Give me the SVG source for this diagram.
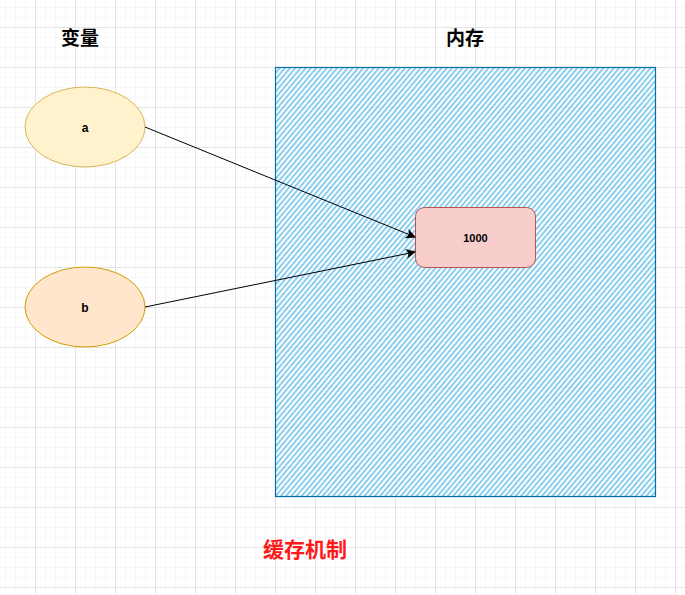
<svg xmlns="http://www.w3.org/2000/svg" width="685" height="595" viewBox="0 0 685 595">
<defs>
<pattern id="minor" x="5" y="7" width="10" height="10" patternUnits="userSpaceOnUse">
<path d="M0 0H10M0 0V10" fill="none" stroke="#f0f0f0" stroke-width="1"/>
</pattern>
<pattern id="major" x="-5" y="27" width="40" height="40" patternUnits="userSpaceOnUse">
<path d="M0 0.5H40M0.5 0V40" fill="none" stroke="#e4e4e4" stroke-width="1"/>
</pattern>
<pattern id="hatch" width="4" height="4" patternUnits="userSpaceOnUse" patternTransform="rotate(-50)">
<line x1="0" y1="2" x2="4" y2="2" stroke="#1ba1e2" stroke-width="1.3" stroke-opacity="0.8"/>
</pattern>
<marker id="arr" viewBox="0 0 10 10" refX="9" refY="5" markerWidth="10" markerHeight="10" markerUnits="userSpaceOnUse" orient="auto">
<path d="M0 0L10 5L0 10L2.5 5Z" fill="#000"/>
</marker>
<style>
.t{font-family:"Liberation Sans","Noto Sans CJK SC",sans-serif;font-weight:bold;text-anchor:middle;dominant-baseline:central}
.edge{fill:none;stroke:#000;stroke-width:1;marker-end:url(#arr)}
</style>
</defs>
<rect width="685" height="595" fill="#fff"/>
<rect width="685" height="595" fill="url(#minor)"/>
<rect width="685" height="595" fill="url(#major)"/>
<g id="label-vars"><text class="t" x="80" y="38" font-size="19">变量</text></g>
<g id="label-mem"><text class="t" x="465" y="38" font-size="19">内存</text></g>
<g id="memory">
<rect x="275.5" y="67.5" width="380" height="429" fill="#fff" fill-opacity="0.6"/>
<rect x="275.5" y="67.5" width="380" height="429" fill="url(#hatch)" stroke="#006eaf" stroke-width="1.2"/>
</g>
<g id="node-a">
<ellipse cx="85" cy="127" rx="60" ry="40" fill="#fff2cc" stroke="#d6b656"/>
<text class="t" x="85" y="128" font-size="12">a</text>
</g>
<g id="node-b">
<ellipse cx="85" cy="307" rx="60" ry="40" fill="#ffe6cc" stroke="#d79b00"/>
<text class="t" x="85" y="308" font-size="12">b</text>
</g>
<g id="node-1000">
<rect x="415.5" y="207.5" width="120" height="60" rx="9" fill="#f8cecc" stroke="#b85450"/>
<text class="t" x="475.5" y="238" font-size="11">1000</text>
</g>
<g id="connectors">
<path class="edge" d="M145 127L415 237"/>
<path class="edge" d="M145 307L415 252"/>
</g>
<g id="caption"><text class="t" x="305" y="549" font-size="21" fill="#ff1a1a">缓存机制</text></g>
</svg>
